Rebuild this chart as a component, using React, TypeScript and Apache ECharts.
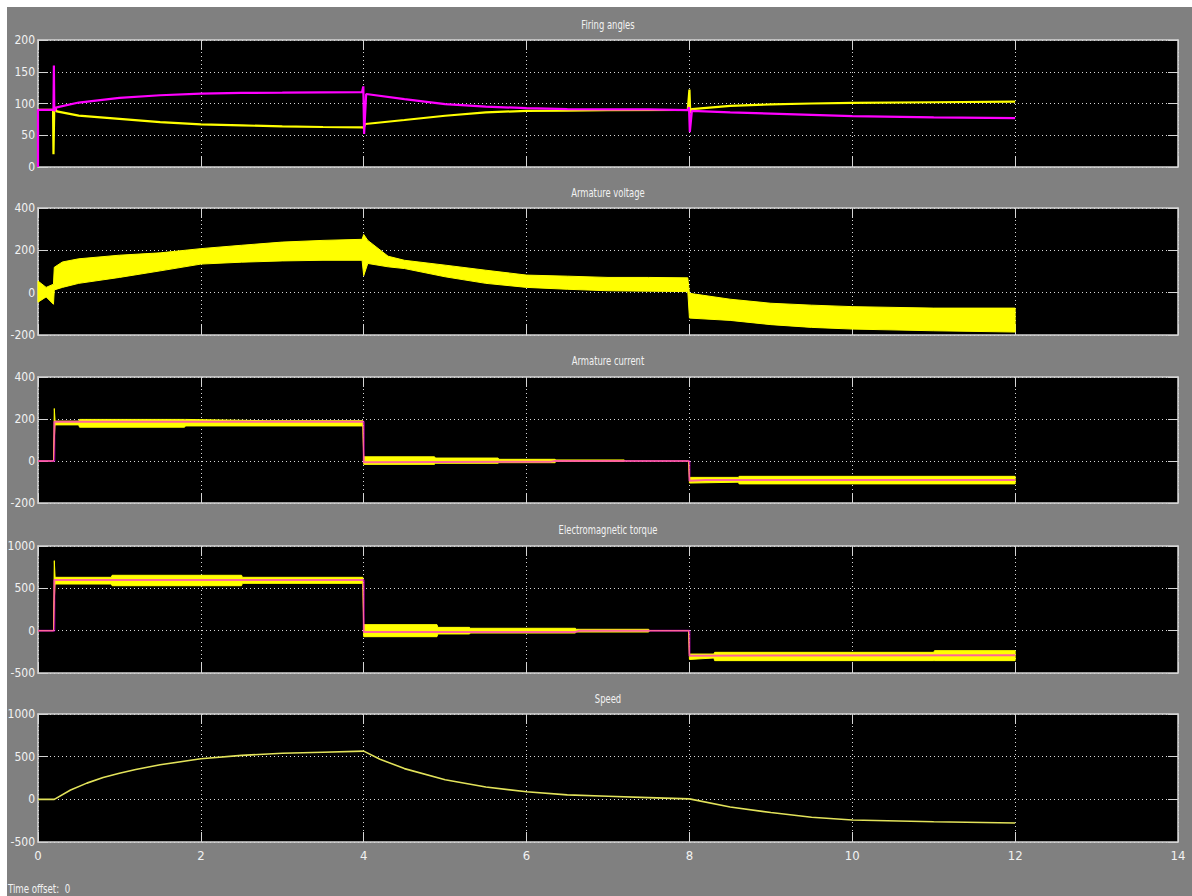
import React, { useEffect, useRef } from "react";
import * as echarts from "echarts";

// ---------- data ----------
const plotTitles = ["Firing angles", "Armature voltage", "Armature current", "Electromagnetic torque", "Speed"];
const xTicks = [0, 2, 4, 6, 8, 10, 12, 14];
const yMins = [0, -200, -200, -500, -500];
const yMaxs = [200, 400, 400, 1000, 1000];
const yIntervals = [50, 200, 200, 500, 500];

// Firing angles (magenta & yellow)
const faMagT = [0, 0, 0.19, 0.195, 0.2, 0.23, 0.5, 1, 1.5, 2, 2.5, 3, 3.5, 3.98, 3.995, 4.005, 4.03, 4.5, 5, 5.5, 6, 6.5, 7, 7.5, 7.98, 7.995, 8.005, 8.03, 8.5, 9, 9.5, 10, 11, 12];
const faMagV = [0, 90, 90, 160, 88, 94, 101.5, 109, 113, 115.5, 116.6, 117, 117.5, 118, 127, 52, 115, 107, 99, 95, 92.7, 91, 90.6, 90.6, 89.6, 94, 55, 88.5, 86, 84, 82, 80, 78, 77];
const faYelT = [0, 0.185, 0.19, 0.2, 0.23, 0.5, 1, 1.5, 2, 2.5, 3, 3.5, 3.98, 4.0, 4.02, 4.5, 5, 5.5, 6, 6.5, 7, 7.98, 8.0, 8.01, 8.03, 8.5, 9, 9.5, 10, 11, 12];
const faYelV = [90, 90, 20, 95, 87.6, 81, 75.8, 70.6, 67, 65.5, 64, 63, 62.5, 62, 67.7, 74, 80.7, 86, 88.5, 88.8, 89.6, 90, 122, 85, 91, 96.4, 98.5, 100, 101, 102, 103];

// Armature voltage (yellow band)
const avT = [0, 0.1, 0.19, 0.2, 0.3, 0.5, 1, 1.5, 2, 2.5, 3, 3.5, 3.98, 4.0, 4.05, 4.3, 4.5, 5, 5.5, 6, 6.5, 7, 7.5, 7.98, 8.0, 8.5, 9, 9.5, 10, 11, 12];
const avUp = [55, 25, 40, 120, 145, 160, 177, 188, 208, 224, 239, 247, 252, 275, 247, 172, 153, 130, 106, 83, 78, 72, 72, 70, -3, -31, -50, -59, -66, -73, -73];
const avLo = [-45, -20, -55, 13, 25, 44, 72, 103, 135, 144, 150, 153, 153, 80, 138, 122, 114, 75, 44, 25, 16, 9, 7, 5, -120, -131, -151, -164, -172, -180, -186];

// Armature current
const acRefT = [0, 0.2, 0.2, 4, 4, 6.3, 6.35, 8, 8, 8.2, 12];
const acRefV = [0, 0, 187, 187, -6, -3, 0, 0, -94, -90, -90];
const acT = [0, 0.19, 0.2, 0.21, 0.5, 0.51, 1.8, 1.81, 2.8, 3.99, 4.0, 4.87, 4.88, 5.65, 5.66, 6.35, 6.36, 7.2, 7.21, 7.99, 8.0, 8.6, 8.61, 12];
const acUp = [0, 0, 250, 190, 190, 198, 198, 198, 192, 192, 20, 20, 14, 14, 8, 8, 5, 5, 0, 0, -78, -78, -73, -73];
const acLo = [0, 0, 100, 172, 172, 161, 161, 167, 167, 167, -16, -16, -11, -11, -8, -8, -2, -2, 0, 0, -105, -101, -109, -109];

// Electromagnetic torque
const tqRefT = [0, 0.2, 0.2, 4, 4, 6.6, 6.65, 8, 8, 12];
const tqRefV = [0, 0, 598, 598, -15, -15, 0, 0, -295, -290];
const tqT = [0, 0.19, 0.2, 0.21, 0.9, 0.91, 2.5, 2.51, 3.99, 4.0, 4.9, 4.91, 5.3, 5.31, 6.6, 6.61, 7.5, 7.51, 7.99, 8.0, 8.3, 8.31, 11, 11.01, 12];
const tqUp = [0, 0, 827, 630, 630, 654, 654, 630, 630, 71, 71, 39, 39, 28, 28, 16, 16, 0, 0, -276, -276, -256, -256, -236, -236];
const tqLo = [0, 0, 354, 551, 551, 531, 531, 559, 559, -71, -71, -39, -39, -28, -28, -16, -16, 0, 0, -340, -323, -354, -354, -354, -354];

// Speed
const spT = [0, 0.2, 0.4, 0.6, 0.8, 1, 1.2, 1.5, 2, 2.5, 3, 3.5, 4, 4.2, 4.5, 5, 5.5, 6, 6.5, 7, 7.5, 8, 8.5, 9, 9.5, 10, 11, 12];
const spV = [0, 0, 110, 190, 255, 305, 350, 405, 475, 515, 540, 552, 565, 470, 360, 230, 145, 88, 52, 36, 20, 5, -90, -155, -210, -242, -262, -278];

// ---------- styling ----------
const FONT = "'Liberation Sans Narrow', 'Arial Narrow', 'DejaVu Sans Condensed', sans-serif";
const BG = "#808080";
const FRAME = "#d4d4d4";
const TEXT = "#f2f2f2";
const YEL = "#ffff00";
const MAG = "#ff00ff";

const gridTops = [40, 208, 377, 546, 714];
const gridHeights = [127, 127, 126, 127, 128];
const titleYs = [25, 193, 361, 530, 699];

const zip = (t: number[], v: number[]) => t.map((x, i) => [x, v[i]]);

function bandSeries(idx: number, t: number[], up: number[], lo: number[], color: string) {
  return {
    type: "custom",
    xAxisIndex: idx * 2,
    yAxisIndex: idx * 2,
    silent: true,
    z: 2,
    data: [[t[0], lo[0]]],
    renderItem: (_params: any, api: any) => {
      const pts: number[][] = [];
      for (let k = 0; k < t.length; k++) pts.push(api.coord([t[k], up[k]]));
      for (let k = t.length - 1; k >= 0; k--) pts.push(api.coord([t[k], lo[k]]));
      return {
        type: "polygon",
        shape: { points: pts },
        style: { fill: color, stroke: color, lineWidth: 1 },
      };
    },
  };
}

function lineSeries(idx: number, t: number[], v: number[], color: string, width: number, opacity = 1, z = 3) {
  return {
    type: "line",
    xAxisIndex: idx * 2,
    yAxisIndex: idx * 2,
    data: zip(t, v),
    showSymbol: false,
    symbol: "none",
    silent: true,
    z,
    lineStyle: { color, width, opacity },
  };
}

function buildOption() {
  const grids: any[] = [];
  const xAxes: any[] = [];
  const yAxes: any[] = [];
  for (let i = 0; i < 5; i++) {
    grids.push({
      left: 38,
      right: 14,
      top: gridTops[i],
      height: gridHeights[i],
      show: true,
      backgroundColor: "#000000",
      borderWidth: 0,
      containLabel: false,
    });
    const common = {
      type: "value",
      gridIndex: i,
      min: xTicks[0],
      max: xTicks[xTicks.length - 1],
      interval: 2,
      axisLine: { show: true, onZero: false, lineStyle: { color: FRAME, width: 1.5 } },
      axisTick: { show: true, inside: true, length: 10, lineStyle: { color: FRAME, width: 1 } },
    };
    xAxes.push({
      ...common,
      position: "bottom",
      axisLabel: {
        show: i === 4,
        color: TEXT,
        fontFamily: FONT,
        fontSize: 13,
        margin: 7,
        formatter: (v: number) => String(v),
      },
      splitLine: { show: true, lineStyle: { color: "#d8d8d8", type: [1, 3], width: 1 } },
    });
    xAxes.push({
      ...common,
      position: "top",
      axisLabel: { show: false },
      splitLine: { show: false },
    });
    const ycommon = {
      type: "value",
      gridIndex: i,
      min: yMins[i],
      max: yMaxs[i],
      interval: yIntervals[i],
      axisLine: { show: true, onZero: false, lineStyle: { color: FRAME, width: 1.5 } },
      axisTick: { show: true, inside: true, length: 10, lineStyle: { color: FRAME, width: 1 } },
    };
    yAxes.push({
      ...ycommon,
      position: "left",
      axisLabel: {
        show: true,
        color: TEXT,
        fontFamily: FONT,
        fontSize: 12,
        margin: 3,
        formatter: (v: number) => String(v),
      },
      splitLine: { show: true, lineStyle: { color: "#d8d8d8", type: [1, 3], width: 1 } },
    });
    yAxes.push({
      ...ycommon,
      position: "right",
      axisLabel: { show: false },
      splitLine: { show: false },
    });
  }

  const series: any[] = [
    // firing angles
    lineSeries(0, faYelT, faYelV, YEL, 2.2, 1, 3),
    lineSeries(0, faMagT, faMagV, MAG, 2.2, 1, 4),
    // armature voltage
    bandSeries(1, avT, avUp, avLo, YEL),
    // armature current
    bandSeries(2, acT, acUp, acLo, YEL),
    lineSeries(2, acRefT, acRefV, MAG, 2, 0.6, 4),
    // torque
    bandSeries(3, tqT, tqUp, tqLo, YEL),
    lineSeries(3, tqRefT, tqRefV, MAG, 2, 0.6, 4),
    // speed
    lineSeries(4, spT, spV, "#e2e25a", 1.6, 1, 3),
  ];

  const graphics: any[] = [
    { type: "rect", shape: { x: 0, y: 0, width: 1192, height: 7 }, style: { fill: "#ffffff" }, silent: true },
    { type: "rect", shape: { x: 0, y: 0, width: 7, height: 896 }, style: { fill: "#ffffff" }, silent: true },
    ...plotTitles.map((t, i) => ({
      type: "text",
      x: 608,
      y: titleYs[i],
      scaleX: 0.78,
      silent: true,
      style: {
        text: t,
        fill: TEXT,
        font: `12px ${FONT}`,
        textAlign: "center",
        textVerticalAlign: "middle",
      },
    })),
    {
      type: "text",
      x: 8,
      y: 889,
      scaleX: 0.8,
      silent: true,
      style: {
        text: "Time offset:  0",
        fill: TEXT,
        font: `12px ${FONT}`,
        textAlign: "left",
        textVerticalAlign: "middle",
      },
    },
  ];

  return {
    animation: false,
    backgroundColor: BG,
    grid: grids,
    xAxis: xAxes,
    yAxis: yAxes,
    series,
    graphic: graphics,
  };
}

export default function App() {
  const ref = useRef<HTMLDivElement>(null);
  useEffect(() => {
    if (!ref.current) return;
    const chart = echarts.init(ref.current, null, { renderer: "svg" });
    chart.setOption(buildOption() as any);
    return () => chart.dispose();
  }, []);
  return (
    <div
      ref={ref}
      style={{ position: "fixed", left: 0, top: 0, width: 1192, height: 896 }}
    />
  );
}
